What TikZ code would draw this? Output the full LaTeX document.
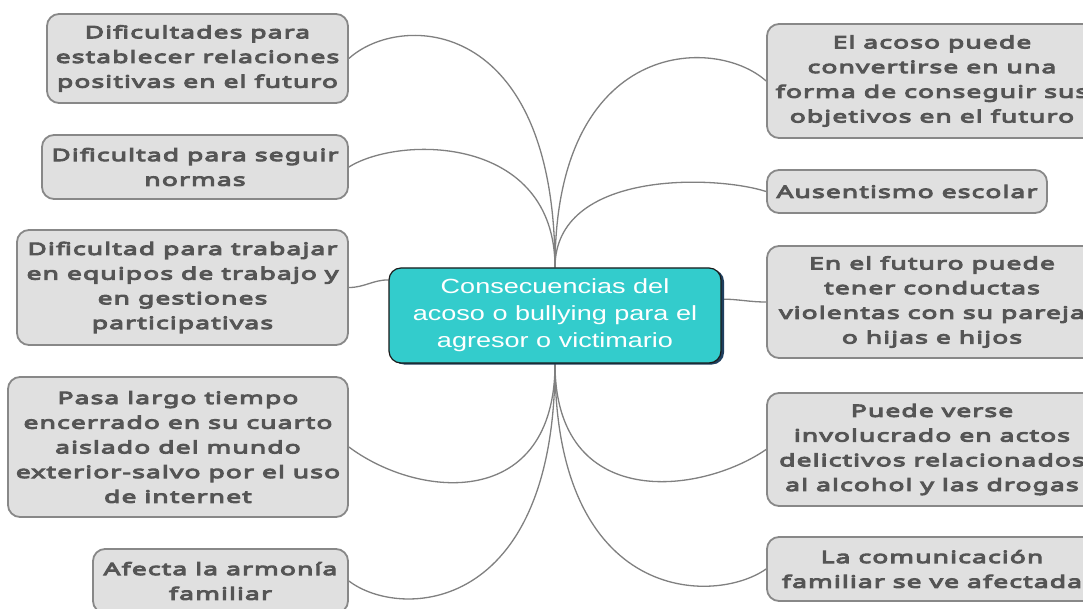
\documentclass[tikz,border=0pt]{standalone}
\usepackage{fontspec}
\newfontfamily\boxfont{Noto Sans}[FakeStretch=1.55, LetterSpace=7, FakeBold=6]
\newfontfamily\ctrfont{Liberation Sans}[FakeStretch=1.32]
\usetikzlibrary{calc,backgrounds,shadows}
\definecolor{hubfill}{HTML}{33CCCC}
\definecolor{hubline}{HTML}{1A1A1A}
\definecolor{hubshadow}{HTML}{1F3F5F}
\definecolor{boxfill}{HTML}{E0E0E0}
\definecolor{boxline}{HTML}{888888}
\definecolor{boxtext}{HTML}{555555}
\definecolor{linec}{HTML}{808080}
\begin{document}
\begin{tikzpicture}[x=1pt,y=-1pt,
  box/.style={draw=boxline, fill=boxfill, line width=1.8pt, rounded corners=12pt,
    align=center, text=boxtext, inner sep=0pt,
    font=\boxfont\fontsize{17}{24.7}\selectfont},
  hub/.style={draw=hubline, fill=hubfill, line width=1.2pt, rounded corners=12pt,
    align=center, text=white, inner sep=0pt,
    font=\ctrfont\fontsize{20.5}{27}\selectfont,
    drop shadow={shadow xshift=3pt, shadow yshift=-1.5pt, fill=hubshadow, opacity=1}},
  conn/.style={draw=linec, line width=1.3pt}]
\useasboundingbox (0,0) rectangle (1083,609);
\clip (0,0) rectangle (1083,609);

\node[hub, minimum width=332pt, minimum height=95pt] (c) at (555,315.5)
  {Consecuencias del\\acoso o bullying para el\\agresor o victimario};

\node[box, minimum width=301pt, minimum height=89pt] (l1) at (197.5,58.5)
  {Dificultades para\\establecer relaciones\\positivas en el futuro};
\node[box, minimum width=306pt, minimum height=64pt] (l2) at (195,167)
  {Dificultad para seguir\\normas};
\node[box, minimum width=331pt, minimum height=115pt] (l3) at (182.5,287.5)
  {Dificultad para trabajar\\en equipos de trabajo y\\en gestiones\\participativas};
\node[box, minimum width=340pt, minimum height=140pt] (l4) at (178,447)
  {Pasa largo tiempo\\encerrado en su cuarto\\aislado del mundo\\exterior-salvo por el uso\\de internet};
\node[box, minimum width=255pt, minimum height=64pt] (l5) at (220.5,581)
  {Afecta la armonía\\familiar};

\node[box, minimum width=330pt, minimum height=114pt] (r1) at (932,81)
  {El acoso puede\\convertirse en una\\forma de conseguir sus\\objetivos en el futuro};
\node[box, minimum width=280pt, minimum height=43pt] (r2) at (907,191.5)
  {Ausentismo escolar};
\node[box, minimum width=330pt, minimum height=112pt] (r3) at (932,302)
  {En el futuro puede\\tener conductas\\violentas con su pareja\\o hijas e hijos};
\node[box, minimum width=330pt, minimum height=113pt] (r4) at (932,449.5)
  {Puede verse\\involucrado en actos\\delictivos relacionados\\al alcohol y las drogas};
\node[box, minimum width=330pt, minimum height=64pt] (r5) at (932,569)
  {La comunicación\\familiar se ve afectada};

\begin{scope}[on background layer]
\fill[white] (0,0) rectangle (1083,609);
\draw[conn] (l1.east) .. controls (400,12) and (555,15) .. (c.north);
\draw[conn] (l2.east) .. controls (400,135) and (555,135) .. (c.north);
\draw[conn] (l3.east) to[out=0,in=180] ($(c.north west)!0.13!(c.south west)$);
\draw[conn] (l4.east) .. controls (420,500) and (555,510) .. (c.south);
\draw[conn] (l5.east) .. controls (400,620) and (555,615) .. (c.south);
\draw[conn] (r1.west) .. controls (715,35) and (555,38) .. (c.north);
\draw[conn] (r2.west) .. controls (715,175) and (555,170) .. (c.north);
\draw[conn] (r3.west) to[out=180,in=0] ($(c.north east)!0.33!(c.south east)$);
\draw[conn] (r4.west) .. controls (700,495) and (555,512) .. (c.south);
\draw[conn] (r5.west) .. controls (715,605) and (555,605) .. (c.south);
\end{scope}
\end{tikzpicture}
\end{document}
